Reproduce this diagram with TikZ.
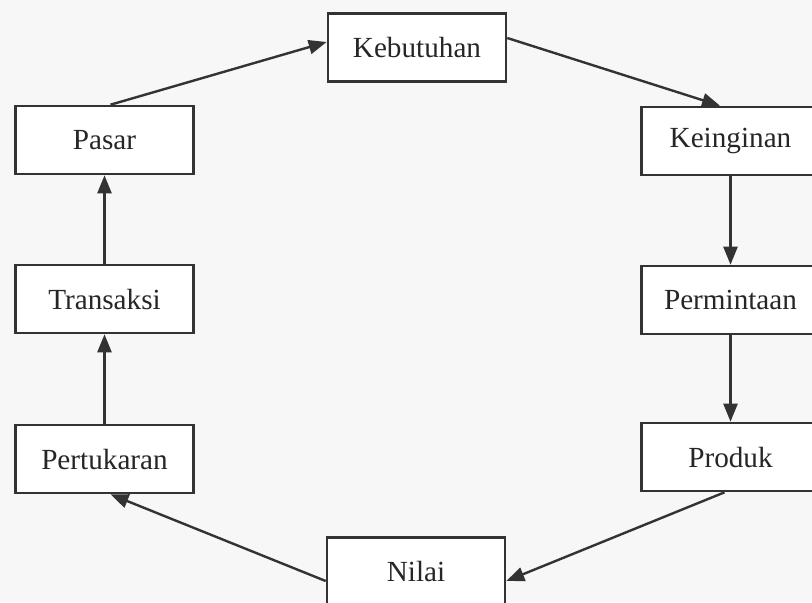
\documentclass[tikz,border=0pt]{standalone}
\usepackage{fontspec}
\setmainfont{Liberation Serif}
\usetikzlibrary{arrows.meta}
\colorlet{cLine}{black!80!white}
\tikzset{
    boxItem/.style={
        draw=cLine,
        line width=1.3pt,
        fill=white,
        minimum width=89pt,
        minimum height=34pt,
        inner sep=0pt,
        text=black!85!white,
        font=\fontsize{14.6}{17}\selectfont
    },
    flowEdge/.style={
        draw=cLine,
        line width=1.2pt,
        -{Triangle[length=9pt,width=7pt]}
    },
}
\begin{document}
\begin{tikzpicture}[x=0.5pt,y=-0.5pt]
    \useasboundingbox (0,0) rectangle (812,602);
    \fill[black!3!white] (0,0) rectangle (812,602);
    \clip (0,0) rectangle (812,602);

    \node[boxItem] (kebutuhan) at (417, 47.5) {Kebutuhan};
    \node[boxItem] (pasar) at (104.5, 140) {Pasar};
    \node[boxItem] (transaksi) at (104.5, 299) {Transaksi};
    \node[boxItem] (pertukaran) at (104.5, 459) {Pertukaran};
    \node[boxItem] (keinginan) at (730.5, 141) {Keinginan};
    \node[boxItem] (permintaan) at (730.5, 300) {Permintaan};
    \node[boxItem] (produk) at (730.5, 457) {Produk};
    \node[boxItem] (nilai) at (416, 571.5) {Nilai};

    \draw[flowEdge] ([xshift=3pt]pasar.north) -- ([yshift=2.75pt]kebutuhan.west);
    \draw[flowEdge] ([yshift=4.75pt]kebutuhan.east) -- ([xshift=-5.25pt]keinginan.north);
    \draw[flowEdge] (keinginan) -- (permintaan);
    \draw[flowEdge] (permintaan) -- (produk);
    \draw[flowEdge] ([xshift=-3pt]produk.south) -- ([yshift=-4.75pt]nilai.east);
    \draw[flowEdge] ([yshift=-4.75pt]nilai.west) -- ([xshift=3pt]pertukaran.south);
    \draw[flowEdge] (pertukaran) -- (transaksi);
    \draw[flowEdge] (transaksi) -- (pasar);
\end{tikzpicture}
\end{document}
